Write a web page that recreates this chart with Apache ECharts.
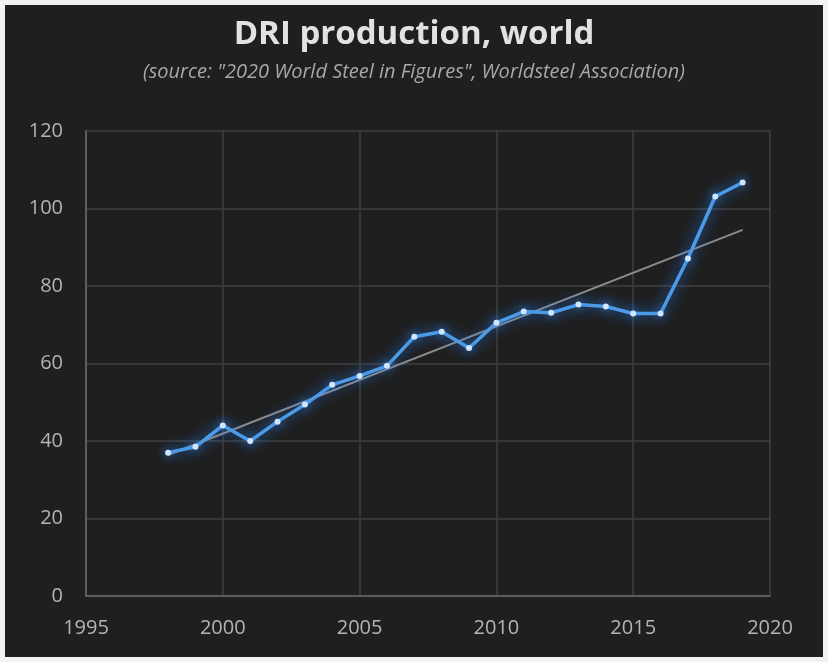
<!DOCTYPE html>
<html>
<head>
<meta charset="utf-8">
<script src="https://cdn.jsdelivr.net/npm/echarts@6/dist/echarts.min.js"></script>
<style>
  html, body { margin: 0; padding: 0; background: #f2f2f2; }
  #chart { position: absolute; left: 5px; top: 5px; width: 818px; height: 652px; background: #1f1f1f; }
</style>
</head>
<body>
<div id="chart"></div>
<script>
// World DRI production, million tonnes
const years = [1998, 1999, 2000, 2001, 2002, 2003, 2004, 2005, 2006, 2007, 2008,
               2009, 2010, 2011, 2012, 2013, 2014, 2015, 2016, 2017, 2018, 2019];
const production = [37.0, 38.5, 44.0, 40.0, 45.0, 49.4, 54.5, 56.8, 59.4, 66.9, 68.2,
                    64.0, 70.5, 73.4, 73.1, 75.2, 74.7, 72.9, 72.9, 87.1, 103.1, 106.7];
// Linear trend endpoints
const trendYears = [1998, 2019];
const trendValues = [36.4, 94.5];
const xTicks = [1995, 2000, 2005, 2010, 2015, 2020];
const yTicks = [0, 20, 40, 60, 80, 100, 120];

const chart = echarts.init(document.getElementById('chart'));
const font = "'Open Sans', 'Noto Sans', sans-serif";

chart.setOption({
  backgroundColor: '#1f1f1f',
  title: [{
    text: 'DRI production, world',
    left: 'center', top: 8,
    textStyle: { color: '#e2e2e2', fontSize: 33, fontWeight: 'bold', fontFamily: font }
  }, {
    text: '(source: "2020 World Steel in Figures", Worldsteel Association)',
    left: 'center', top: 52,
    textStyle: { color: '#a8a8a8', fontSize: 20, fontStyle: 'italic', fontWeight: 'normal', fontFamily: font }
  }],
  grid: { left: 81, right: 53, top: 126, bottom: 61 },
  xAxis: {
    type: 'value', min: xTicks[0], max: xTicks[xTicks.length - 1], interval: 5,
    axisLine: { show: true, lineStyle: { color: '#6a6a6a', width: 1.5 } },
    axisTick: { show: false },
    splitLine: { show: true, lineStyle: { color: '#404040', width: 1.5 } },
    axisLabel: { color: '#b4b4b4', fontSize: 20, fontFamily: font, margin: 22,
                 formatter: v => String(v) }
  },
  yAxis: {
    type: 'value', min: yTicks[0], max: yTicks[yTicks.length - 1], interval: 20,
    axisLine: { show: true, lineStyle: { color: '#6a6a6a', width: 1.5 } },
    axisTick: { show: false },
    splitLine: { show: true, lineStyle: { color: '#404040', width: 1.5 } },
    axisLabel: { color: '#b4b4b4', fontSize: 20, fontFamily: font, margin: 23 }
  },
  series: [{
    name: 'trend',
    type: 'line',
    data: trendYears.map((y, i) => [y, trendValues[i]]),
    symbol: 'none',
    lineStyle: { color: '#8c8c8c', width: 2 },
    z: 1,
    silent: true
  }, {
    name: 'DRI',
    type: 'line',
    data: years.map((y, i) => [y, production[i]]),
    symbol: 'circle',
    symbolSize: 6,
    itemStyle: { color: '#cfe6ff', shadowBlur: 10, shadowColor: '#2f8fff' },
    lineStyle: { color: '#4d9be8', width: 3.5, shadowBlur: 14, shadowColor: 'rgba(40,130,255,0.9)' },
    z: 3,
    silent: true
  }],
  animation: false
});
</script>
</body>
</html>
